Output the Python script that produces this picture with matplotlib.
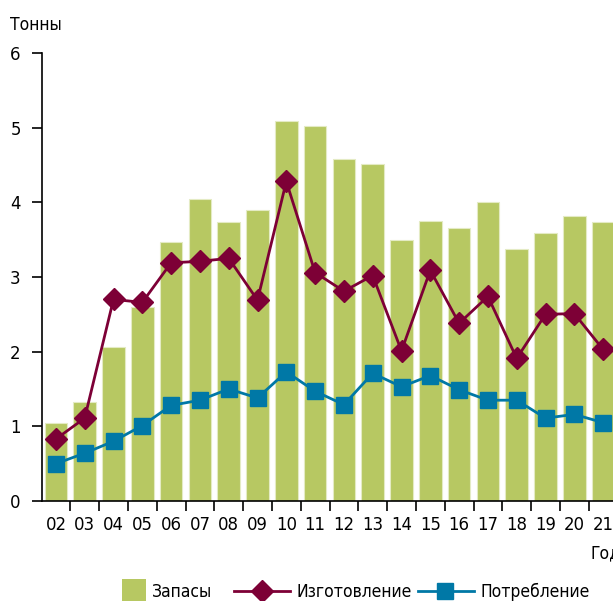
import matplotlib
matplotlib.use("Agg")
import matplotlib.pyplot as plt
import numpy as np
from matplotlib.patches import Rectangle
from matplotlib.lines import Line2D

years = ["02", "03", "04", "05", "06", "07", "08", "09", "10", "11",
         "12", "13", "14", "15", "16", "17", "18", "19", "20", "21"]
zapasy = [1.04, 1.32, 2.06, 2.60, 3.47, 4.05, 3.74, 3.90, 5.09, 5.02,
          4.58, 4.51, 3.49, 3.75, 3.66, 4.01, 3.38, 3.59, 3.82, 3.74]
izgotovlenie = [0.83, 1.11, 2.70, 2.66, 3.19, 3.21, 3.25, 2.69, 4.28, 3.06,
                2.81, 3.02, 2.01, 3.09, 2.38, 2.74, 1.91, 2.50, 2.51, 2.03]
potreblenie = [0.50, 0.64, 0.80, 1.01, 1.28, 1.35, 1.50, 1.38, 1.73, 1.47,
               1.29, 1.71, 1.53, 1.68, 1.49, 1.35, 1.35, 1.11, 1.16, 1.05]
yticks = [0, 1, 2, 3, 4, 5, 6]
labels = ["Запасы", "Изготовление", "Потребление"]

plt.rcParams["font.family"] = ["DejaVu Sans"]
plt.rcParams["font.stretch"] = "condensed"

fig = plt.figure(figsize=(6.13, 6.01), dpi=100)
W, H = 613, 601
x0, x1, y0, y1 = 41.5, 617.5, 501, 53
ax = fig.add_axes([x0 / W, 1 - y0 / H, (x1 - x0) / W, (y0 - y1) / H])

def fx(px):
    return px / W

def fy(py):
    return 1 - py / H

x = np.arange(len(years))
bar_c = "#b7c862"
red_c = "#7d0036"
blue_c = "#0078a6"
fs = 13.2
fs2 = 12.5

ax.bar(x, zapasy, width=0.78, color=bar_c, edgecolor="#e4ebc4", linewidth=0.8,
       label=labels[0], zorder=1)
ax.plot(x, izgotovlenie, color=red_c, lw=2.0, marker="D", ms=11,
        label=labels[1], zorder=3)
ax.plot(x, potreblenie, color=blue_c, lw=2.0, marker="s", ms=11,
        label=labels[2], zorder=3)

ax.set_xlim(-0.5, len(years) - 0.5)
ax.set_ylim(0, 6)
ax.set_yticks(yticks)
ax.set_yticklabels([str(v) for v in yticks])
ax.set_xticks(x)
ax.set_xticklabels(years)
ax.set_xticks(np.arange(len(years)) + 0.5, minor=True)
ax.tick_params(axis="x", which="major", length=0, pad=11, labelsize=fs)
ax.tick_params(axis="x", which="minor", length=7, width=1.2, direction="out")
ax.tick_params(axis="y", length=7, width=1.2, pad=8, labelsize=fs)

for s in ["top", "right"]:
    ax.spines[s].set_visible(False)
for s in ["left", "bottom"]:
    ax.spines[s].set_linewidth(1.2)

fig.text(fx(10), fy(25), "Тонны", fontsize=fs2, ha="left", va="center")
fig.text(fx(590), fy(553), "Год", fontsize=fs2, ha="left", va="center")

# manual legend
ly = 592
fig.add_artist(Rectangle((fx(122), fy(601)), fx(146) - fx(122), fy(579) - fy(601),
                         transform=fig.transFigure, facecolor=bar_c, edgecolor="none"))
fig.text(fx(152), fy(ly), labels[0], fontsize=fs2, ha="left", va="center")
fig.add_artist(Line2D([fx(234), fx(290)], [fy(591), fy(591)], transform=fig.transFigure,
                      color=red_c, lw=2.0))
fig.add_artist(Line2D([fx(262)], [fy(591)], transform=fig.transFigure,
                      color=red_c, marker="D", ms=11, lw=0))
fig.text(fx(297), fy(ly), labels[1], fontsize=fs2, ha="left", va="center")
fig.add_artist(Line2D([fx(418), fx(474)], [fy(591), fy(591)], transform=fig.transFigure,
                      color=blue_c, lw=2.0))
fig.add_artist(Line2D([fx(445)], [fy(591)], transform=fig.transFigure,
                      color=blue_c, marker="s", ms=11, lw=0))
fig.text(fx(480), fy(ly), labels[2], fontsize=fs2, ha="left", va="center")

fig.savefig("out.png", dpi=100)
